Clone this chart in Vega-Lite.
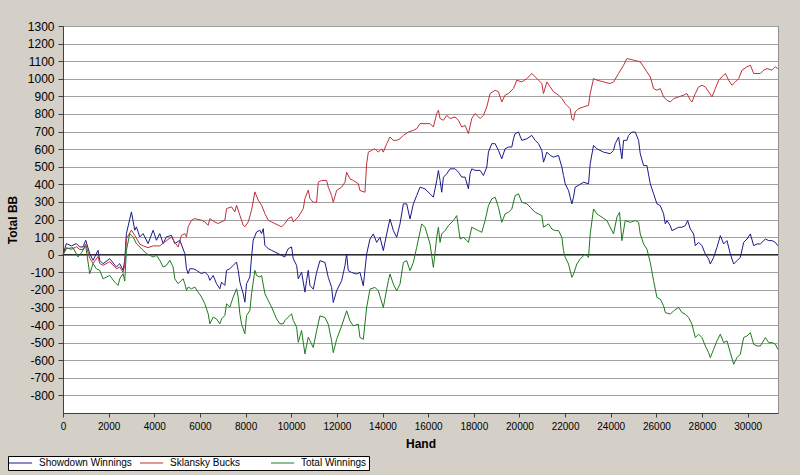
{
"$schema": "https://vega.github.io/schema/vega-lite/v6.json",
"width": 715, "height": 387,
"autosize": {"type": "none"},
"padding": {"left": 63, "top": 26, "right": 22, "bottom": 62},
"background": "#d4d0c8",
"config": {"view": {"fill": "white", "stroke": "#909090", "strokeWidth": 1}, "font": "Liberation Sans",
 "axisY": {
    "labelExpr": "datum.value < 0 ? '-' + abs(datum.value) : '' + datum.value",
    "labelOverlap": false, "labelBound": false, "labelFlush": false,
    "grid": true, "gridColor": "#a0a0a0", "gridWidth": 1, "gridOpacity": 1,
    "domainColor": "#404040", "tickColor": "#404040", "tickSize": 5, "labelPadding": 4,
    "labelFont": "Liberation Sans", "labelFontSize": 12, "labelColor": "black",
    "titleFont": "Liberation Sans", "titleFontSize": 12, "titleFontWeight": "bold", "titleColor": "black",
    "titleX": -51, "titleY": 193.5, "titleAngle": 270, "titleAlign": "center", "titleBaseline": "middle"},
 "axisX": {
    "format": "d", "grid": false, "labelOverlap": false, "labelFlush": false, "domainColor": "#404040", "tickColor": "#404040", "tickSize": 4, "labelPadding": 4,
    "labelFont": "Liberation Sans", "labelFontSize": 10, "labelColor": "black",
    "titleFont": "Liberation Sans", "titleFontSize": 12, "titleFontWeight": "bold", "titleColor": "black",
    "titleX": 357.5, "titleY": 30, "titleAlign": "center", "titleBaseline": "middle"}
},
"datasets": {
"sd": [{"h":0,"v":0},{"h":147,"v":63},{"h":367,"v":50},{"h":586,"v":63},{"h":732,"v":44},{"h":878,"v":44},{"h":995,"v":82},{"h":1171,"v":6},{"h":1317,"v":-32},{"h":1536,"v":25},{"h":1609,"v":-32},{"h":1756,"v":-51},{"h":2048,"v":-23},{"h":2340,"v":-70},{"h":2487,"v":-51},{"h":2633,"v":-89},{"h":2706,"v":-32},{"h":2779,"v":120},{"h":2998,"v":243},{"h":3145,"v":139},{"h":3218,"v":158},{"h":3364,"v":101},{"h":3510,"v":120},{"h":3729,"v":63},{"h":3949,"v":139},{"h":4095,"v":82},{"h":4241,"v":120},{"h":4387,"v":63},{"h":4533,"v":101},{"h":4753,"v":110},{"h":4899,"v":63},{"h":5118,"v":82},{"h":5338,"v":6},{"h":5411,"v":-80},{"h":5484,"v":-108},{"h":5557,"v":-80},{"h":5704,"v":-80},{"h":5850,"v":-89},{"h":6069,"v":-108},{"h":6215,"v":-99},{"h":6361,"v":-118},{"h":6435,"v":-146},{"h":6581,"v":-118},{"h":6727,"v":-165},{"h":6873,"v":-194},{"h":6946,"v":-156},{"h":7092,"v":-175},{"h":7166,"v":-89},{"h":7312,"v":-80},{"h":7458,"v":-61},{"h":7604,"v":-42},{"h":7677,"v":-89},{"h":7750,"v":-156},{"h":7897,"v":-222},{"h":7970,"v":-270},{"h":8043,"v":-165},{"h":8189,"v":-127},{"h":8262,"v":-13},{"h":8335,"v":82},{"h":8481,"v":129},{"h":8628,"v":139},{"h":8701,"v":120},{"h":8774,"v":148},{"h":8847,"v":53},{"h":8993,"v":34},{"h":9139,"v":25},{"h":9285,"v":15},{"h":9432,"v":6},{"h":9578,"v":-4},{"h":9724,"v":-13},{"h":9797,"v":15},{"h":9870,"v":34},{"h":10016,"v":44},{"h":10090,"v":-23},{"h":10236,"v":-61},{"h":10309,"v":-137},{"h":10455,"v":-99},{"h":10601,"v":-213},{"h":10674,"v":-146},{"h":10747,"v":-89},{"h":10821,"v":-175},{"h":10967,"v":-196},{"h":11112,"v":-101},{"h":11259,"v":-34},{"h":11478,"v":-44},{"h":11624,"v":-129},{"h":11770,"v":-186},{"h":11843,"v":-272},{"h":11990,"v":-205},{"h":12209,"v":-148},{"h":12355,"v":-63},{"h":12428,"v":4},{"h":12501,"v":-91},{"h":12648,"v":-101},{"h":12867,"v":-110},{"h":13013,"v":-101},{"h":13159,"v":-177},{"h":13305,"v":4},{"h":13452,"v":89},{"h":13598,"v":118},{"h":13744,"v":70},{"h":13890,"v":99},{"h":14036,"v":23},{"h":14183,"v":118},{"h":14329,"v":203},{"h":14475,"v":137},{"h":14621,"v":99},{"h":14767,"v":175},{"h":14914,"v":289},{"h":15060,"v":289},{"h":15206,"v":203},{"h":15352,"v":289},{"h":15498,"v":336},{"h":15645,"v":384},{"h":15864,"v":374},{"h":16083,"v":346},{"h":16229,"v":327},{"h":16376,"v":422},{"h":16449,"v":479},{"h":16522,"v":422},{"h":16595,"v":355},{"h":16669,"v":440},{"h":16815,"v":460},{"h":16961,"v":488},{"h":17180,"v":488},{"h":17326,"v":469},{"h":17473,"v":441},{"h":17619,"v":441},{"h":17765,"v":374},{"h":17838,"v":460},{"h":17911,"v":488},{"h":18057,"v":479},{"h":18277,"v":479},{"h":18423,"v":450},{"h":18569,"v":498},{"h":18642,"v":583},{"h":18788,"v":631},{"h":18935,"v":631},{"h":19081,"v":593},{"h":19227,"v":545},{"h":19373,"v":602},{"h":19520,"v":612},{"h":19666,"v":612},{"h":19739,"v":659},{"h":19812,"v":688},{"h":19958,"v":697},{"h":20105,"v":650},{"h":20324,"v":659},{"h":20543,"v":678},{"h":20689,"v":650},{"h":20835,"v":631},{"h":20981,"v":593},{"h":21055,"v":526},{"h":21201,"v":583},{"h":21347,"v":564},{"h":21493,"v":555},{"h":21712,"v":564},{"h":21859,"v":498},{"h":21932,"v":450},{"h":22005,"v":403},{"h":22151,"v":365},{"h":22224,"v":327},{"h":22297,"v":289},{"h":22370,"v":327},{"h":22443,"v":384},{"h":22589,"v":394},{"h":22808,"v":412},{"h":23028,"v":403},{"h":23101,"v":517},{"h":23247,"v":621},{"h":23393,"v":602},{"h":23686,"v":583},{"h":23978,"v":574},{"h":24124,"v":593},{"h":24197,"v":631},{"h":24344,"v":669},{"h":24490,"v":545},{"h":24563,"v":650},{"h":24709,"v":650},{"h":24782,"v":678},{"h":24928,"v":697},{"h":25075,"v":697},{"h":25221,"v":650},{"h":25294,"v":574},{"h":25440,"v":507},{"h":25586,"v":507},{"h":25733,"v":403},{"h":25879,"v":346},{"h":26025,"v":289},{"h":26171,"v":279},{"h":26317,"v":232},{"h":26391,"v":175},{"h":26463,"v":194},{"h":26610,"v":165},{"h":26683,"v":137},{"h":26829,"v":146},{"h":26975,"v":156},{"h":27121,"v":156},{"h":27268,"v":165},{"h":27370,"v":194},{"h":27487,"v":146},{"h":27633,"v":118},{"h":27706,"v":51},{"h":27852,"v":70},{"h":27999,"v":51},{"h":28145,"v":4},{"h":28291,"v":-25},{"h":28364,"v":-53},{"h":28510,"v":-15},{"h":28656,"v":42},{"h":28803,"v":108},{"h":28949,"v":61},{"h":29095,"v":80},{"h":29241,"v":4},{"h":29388,"v":-53},{"h":29534,"v":-34},{"h":29680,"v":-15},{"h":29826,"v":70},{"h":29972,"v":89},{"h":30118,"v":118},{"h":30265,"v":51},{"h":30411,"v":61},{"h":30557,"v":61},{"h":30776,"v":89},{"h":30923,"v":80},{"h":31069,"v":80},{"h":31215,"v":70},{"h":31318,"v":51}],
"sk": [{"h":0,"v":0},{"h":147,"v":40},{"h":367,"v":30},{"h":586,"v":45},{"h":732,"v":30},{"h":878,"v":30},{"h":995,"v":60},{"h":1171,"v":-20},{"h":1317,"v":-50},{"h":1536,"v":-10},{"h":1609,"v":-50},{"h":1756,"v":-60},{"h":2048,"v":-40},{"h":2340,"v":-80},{"h":2487,"v":-70},{"h":2633,"v":-100},{"h":2706,"v":-60},{"h":2779,"v":90},{"h":2998,"v":140},{"h":3145,"v":110},{"h":3364,"v":60},{"h":3510,"v":50},{"h":3729,"v":40},{"h":3949,"v":50},{"h":4241,"v":50},{"h":4533,"v":80},{"h":4753,"v":100},{"h":4899,"v":70},{"h":5045,"v":44},{"h":5191,"v":110},{"h":5338,"v":120},{"h":5411,"v":101},{"h":5484,"v":158},{"h":5630,"v":196},{"h":5777,"v":205},{"h":6069,"v":196},{"h":6215,"v":186},{"h":6361,"v":167},{"h":6435,"v":205},{"h":6654,"v":186},{"h":6800,"v":177},{"h":7092,"v":196},{"h":7166,"v":262},{"h":7385,"v":272},{"h":7531,"v":243},{"h":7604,"v":281},{"h":7750,"v":224},{"h":7897,"v":167},{"h":7970,"v":158},{"h":8116,"v":186},{"h":8262,"v":253},{"h":8408,"v":357},{"h":8554,"v":310},{"h":8701,"v":281},{"h":8847,"v":234},{"h":8993,"v":196},{"h":9139,"v":186},{"h":9285,"v":177},{"h":9578,"v":158},{"h":9724,"v":177},{"h":9870,"v":205},{"h":10016,"v":215},{"h":10090,"v":186},{"h":10309,"v":215},{"h":10528,"v":262},{"h":10601,"v":319},{"h":10747,"v":367},{"h":10821,"v":319},{"h":10966,"v":298},{"h":11112,"v":298},{"h":11186,"v":412},{"h":11332,"v":422},{"h":11551,"v":422},{"h":11624,"v":384},{"h":11770,"v":336},{"h":11843,"v":298},{"h":11990,"v":365},{"h":12209,"v":384},{"h":12355,"v":412},{"h":12428,"v":469},{"h":12575,"v":431},{"h":12721,"v":422},{"h":12940,"v":403},{"h":13013,"v":365},{"h":13232,"v":355},{"h":13305,"v":517},{"h":13379,"v":583},{"h":13525,"v":593},{"h":13671,"v":602},{"h":13817,"v":583},{"h":13963,"v":602},{"h":14036,"v":583},{"h":14183,"v":631},{"h":14329,"v":669},{"h":14475,"v":650},{"h":14621,"v":650},{"h":14767,"v":659},{"h":14914,"v":678},{"h":15133,"v":697},{"h":15352,"v":707},{"h":15498,"v":716},{"h":15645,"v":745},{"h":15864,"v":745},{"h":16083,"v":745},{"h":16229,"v":726},{"h":16376,"v":802},{"h":16449,"v":821},{"h":16522,"v":774},{"h":16669,"v":764},{"h":16815,"v":792},{"h":16961,"v":774},{"h":17180,"v":783},{"h":17326,"v":764},{"h":17473,"v":726},{"h":17619,"v":735},{"h":17765,"v":688},{"h":17911,"v":774},{"h":18057,"v":802},{"h":18277,"v":774},{"h":18423,"v":792},{"h":18569,"v":840},{"h":18715,"v":916},{"h":18935,"v":935},{"h":19081,"v":926},{"h":19227,"v":868},{"h":19373,"v":907},{"h":19520,"v":916},{"h":19739,"v":945},{"h":19885,"v":992},{"h":20105,"v":982},{"h":20324,"v":1001},{"h":20543,"v":1030},{"h":20689,"v":1011},{"h":20835,"v":992},{"h":20981,"v":973},{"h":21055,"v":916},{"h":21201,"v":982},{"h":21347,"v":954},{"h":21493,"v":926},{"h":21712,"v":907},{"h":21859,"v":888},{"h":22005,"v":859},{"h":22077,"v":849},{"h":22224,"v":830},{"h":22297,"v":773},{"h":22370,"v":764},{"h":22443,"v":811},{"h":22589,"v":830},{"h":22808,"v":840},{"h":23028,"v":849},{"h":23101,"v":916},{"h":23247,"v":1001},{"h":23393,"v":992},{"h":23686,"v":982},{"h":23978,"v":973},{"h":24124,"v":982},{"h":24344,"v":1030},{"h":24563,"v":1077},{"h":24709,"v":1115},{"h":25002,"v":1106},{"h":25294,"v":1096},{"h":25440,"v":1068},{"h":25586,"v":1039},{"h":25733,"v":1011},{"h":25879,"v":944},{"h":26025,"v":935},{"h":26171,"v":944},{"h":26317,"v":897},{"h":26463,"v":878},{"h":26610,"v":868},{"h":26756,"v":887},{"h":26975,"v":897},{"h":27194,"v":907},{"h":27341,"v":916},{"h":27487,"v":878},{"h":27560,"v":868},{"h":27706,"v":916},{"h":27852,"v":954},{"h":27999,"v":963},{"h":28145,"v":954},{"h":28291,"v":926},{"h":28437,"v":897},{"h":28583,"v":944},{"h":28730,"v":992},{"h":28876,"v":1011},{"h":29022,"v":1030},{"h":29168,"v":992},{"h":29314,"v":963},{"h":29461,"v":982},{"h":29607,"v":1001},{"h":29753,"v":1049},{"h":29972,"v":1068},{"h":30118,"v":1077},{"h":30265,"v":1030},{"h":30411,"v":1030},{"h":30557,"v":1030},{"h":30703,"v":1049},{"h":30849,"v":1058},{"h":31069,"v":1049},{"h":31215,"v":1068},{"h":31318,"v":1058}],
"tw": [{"h":0,"v":0},{"h":147,"v":34},{"h":440,"v":40},{"h":659,"v":-13},{"h":805,"v":10},{"h":995,"v":50},{"h":1171,"v":-108},{"h":1317,"v":-51},{"h":1463,"v":-80},{"h":1609,"v":-89},{"h":1756,"v":-137},{"h":2048,"v":-118},{"h":2267,"v":-156},{"h":2413,"v":-175},{"h":2487,"v":-137},{"h":2633,"v":-108},{"h":2706,"v":-150},{"h":2779,"v":25},{"h":2925,"v":120},{"h":3071,"v":101},{"h":3218,"v":63},{"h":3510,"v":25},{"h":3656,"v":6},{"h":3949,"v":-13},{"h":4095,"v":-4},{"h":4241,"v":-32},{"h":4387,"v":-70},{"h":4533,"v":-61},{"h":4680,"v":-32},{"h":4826,"v":-70},{"h":4899,"v":-137},{"h":5045,"v":-165},{"h":5264,"v":-137},{"h":5338,"v":-165},{"h":5411,"v":-203},{"h":5484,"v":-184},{"h":5630,"v":-194},{"h":5777,"v":-184},{"h":5923,"v":-213},{"h":6069,"v":-241},{"h":6215,"v":-279},{"h":6361,"v":-336},{"h":6435,"v":-393},{"h":6581,"v":-355},{"h":6727,"v":-365},{"h":6873,"v":-393},{"h":6946,"v":-365},{"h":7092,"v":-346},{"h":7166,"v":-279},{"h":7312,"v":-298},{"h":7458,"v":-241},{"h":7604,"v":-194},{"h":7677,"v":-241},{"h":7750,"v":-336},{"h":7823,"v":-393},{"h":7970,"v":-450},{"h":8043,"v":-346},{"h":8189,"v":-317},{"h":8262,"v":-222},{"h":8408,"v":-89},{"h":8481,"v":-118},{"h":8628,"v":-127},{"h":8701,"v":-118},{"h":8847,"v":-222},{"h":8993,"v":-260},{"h":9139,"v":-298},{"h":9358,"v":-365},{"h":9505,"v":-393},{"h":9651,"v":-393},{"h":9724,"v":-374},{"h":9870,"v":-355},{"h":10016,"v":-336},{"h":10090,"v":-374},{"h":10236,"v":-412},{"h":10309,"v":-498},{"h":10455,"v":-431},{"h":10601,"v":-564},{"h":10747,"v":-469},{"h":10821,"v":-488},{"h":10966,"v":-528},{"h":11112,"v":-433},{"h":11259,"v":-348},{"h":11478,"v":-357},{"h":11624,"v":-395},{"h":11770,"v":-490},{"h":11843,"v":-557},{"h":11990,"v":-481},{"h":12209,"v":-405},{"h":12428,"v":-319},{"h":12575,"v":-376},{"h":12721,"v":-405},{"h":12940,"v":-395},{"h":13013,"v":-471},{"h":13159,"v":-481},{"h":13305,"v":-300},{"h":13452,"v":-196},{"h":13671,"v":-186},{"h":13817,"v":-205},{"h":14036,"v":-300},{"h":14256,"v":-148},{"h":14329,"v":-110},{"h":14475,"v":-167},{"h":14621,"v":-205},{"h":14767,"v":-167},{"h":14914,"v":-44},{"h":15060,"v":-34},{"h":15206,"v":-91},{"h":15352,"v":-44},{"h":15498,"v":42},{"h":15718,"v":175},{"h":15864,"v":156},{"h":16083,"v":61},{"h":16229,"v":-72},{"h":16376,"v":99},{"h":16449,"v":156},{"h":16522,"v":70},{"h":16595,"v":118},{"h":16741,"v":137},{"h":16888,"v":165},{"h":17107,"v":194},{"h":17253,"v":222},{"h":17326,"v":156},{"h":17400,"v":89},{"h":17546,"v":99},{"h":17692,"v":80},{"h":17765,"v":70},{"h":17911,"v":156},{"h":18057,"v":146},{"h":18204,"v":137},{"h":18350,"v":127},{"h":18496,"v":194},{"h":18642,"v":279},{"h":18788,"v":317},{"h":18935,"v":327},{"h":19081,"v":270},{"h":19227,"v":184},{"h":19373,"v":232},{"h":19520,"v":241},{"h":19666,"v":260},{"h":19812,"v":336},{"h":19958,"v":346},{"h":20105,"v":298},{"h":20324,"v":289},{"h":20470,"v":270},{"h":20689,"v":241},{"h":20835,"v":232},{"h":20981,"v":222},{"h":21055,"v":156},{"h":21274,"v":175},{"h":21420,"v":146},{"h":21566,"v":137},{"h":21712,"v":137},{"h":21859,"v":99},{"h":21932,"v":23},{"h":22005,"v":-15},{"h":22151,"v":-53},{"h":22297,"v":-129},{"h":22370,"v":-110},{"h":22516,"v":-53},{"h":22662,"v":-25},{"h":22882,"v":4},{"h":23028,"v":-15},{"h":23101,"v":118},{"h":23247,"v":260},{"h":23393,"v":232},{"h":23613,"v":213},{"h":23832,"v":194},{"h":23978,"v":156},{"h":24124,"v":118},{"h":24270,"v":213},{"h":24387,"v":241},{"h":24490,"v":80},{"h":24636,"v":194},{"h":24855,"v":184},{"h":25075,"v":194},{"h":25221,"v":184},{"h":25294,"v":118},{"h":25440,"v":61},{"h":25586,"v":32},{"h":25733,"v":-44},{"h":25879,"v":-148},{"h":26025,"v":-243},{"h":26171,"v":-253},{"h":26317,"v":-291},{"h":26391,"v":-329},{"h":26610,"v":-338},{"h":26756,"v":-319},{"h":26975,"v":-300},{"h":27121,"v":-329},{"h":27268,"v":-338},{"h":27414,"v":-357},{"h":27560,"v":-395},{"h":27706,"v":-471},{"h":27852,"v":-452},{"h":27999,"v":-471},{"h":28145,"v":-519},{"h":28291,"v":-557},{"h":28364,"v":-585},{"h":28510,"v":-538},{"h":28656,"v":-490},{"h":28803,"v":-452},{"h":28949,"v":-500},{"h":29095,"v":-490},{"h":29241,"v":-557},{"h":29388,"v":-623},{"h":29534,"v":-585},{"h":29680,"v":-566},{"h":29826,"v":-471},{"h":29972,"v":-462},{"h":30118,"v":-443},{"h":30265,"v":-509},{"h":30411,"v":-519},{"h":30557,"v":-519},{"h":30776,"v":-471},{"h":30923,"v":-500},{"h":31069,"v":-500},{"h":31215,"v":-509},{"h":31318,"v":-538}]
},
"layer": [
{"data": {"values": [{"v": 0}]},
 "mark": {"type": "rule", "color": "black", "strokeWidth": 1},
 "encoding": {
  "y": {"field": "v", "type": "quantitative", "title": "Total BB",
   "scale": {"domain": [-900, 1300], "nice": false, "zero": false},
   "axis": {"values": [-800,-700,-600,-500,-400,-300,-200,-100,0,100,200,300,400,500,600,700,800,900,1000,1100,1200,1300]}}
 }},
{"data": {"name": "sd"},
 "mark": {"type": "line", "strokeWidth": 1},
 "encoding": {
  "x": {"field": "h", "type": "quantitative", "title": "Hand",
   "scale": {"domain": [0, 31330], "nice": false, "zero": false},
   "axis": {"values": [0,2000,4000,6000,8000,10000,12000,14000,16000,18000,20000,22000,24000,26000,28000,30000]}},
  "y": {"field": "v", "type": "quantitative", "title": "Total BB",
   "axis": {"values": [-800,-700,-600,-500,-400,-300,-200,-100,0,100,200,300,400,500,600,700,800,900,1000,1100,1200,1300]}},
  "color": {"datum": "Showdown Winnings", "type": "nominal",
   "scale": {"domain": ["Showdown Winnings", "Sklansky Bucks", "Total Winnings"], "range": ["#1a1a8c", "#c0303a", "#1e7a1e"]},
   "legend": {"title": null, "orient": "none", "legendX": -55, "legendY": 430, "direction": "horizontal", "columns": 3, "gridAlign": "all",
    "symbolType": "M-2,0H5.7", "symbolSize": 36, "symbolStrokeWidth": 1,
    "labelFont": "Liberation Sans", "labelFontSize": 10, "labelColor": "black", "labelOffset": 19, "columnPadding": 6,
    "fillColor": "white", "strokeColor": "black", "padding": 2}}
 }},
{"data": {"name": "sk"},
 "mark": {"type": "line", "strokeWidth": 1},
 "encoding": {
  "x": {"field": "h", "type": "quantitative", "title": "Hand",
   "axis": {"values": [0,2000,4000,6000,8000,10000,12000,14000,16000,18000,20000,22000,24000,26000,28000,30000]}},
  "y": {"field": "v", "type": "quantitative", "title": "Total BB",
   "axis": {"values": [-800,-700,-600,-500,-400,-300,-200,-100,0,100,200,300,400,500,600,700,800,900,1000,1100,1200,1300]}},
  "color": {"datum": "Sklansky Bucks", "type": "nominal"}
 }},
{"data": {"name": "tw"},
 "mark": {"type": "line", "strokeWidth": 1},
 "encoding": {
  "x": {"field": "h", "type": "quantitative", "title": "Hand",
   "axis": {"values": [0,2000,4000,6000,8000,10000,12000,14000,16000,18000,20000,22000,24000,26000,28000,30000]}},
  "y": {"field": "v", "type": "quantitative", "title": "Total BB",
   "axis": {"values": [-800,-700,-600,-500,-400,-300,-200,-100,0,100,200,300,400,500,600,700,800,900,1000,1100,1200,1300]}},
  "color": {"datum": "Total Winnings", "type": "nominal"}
 }}
]
}
